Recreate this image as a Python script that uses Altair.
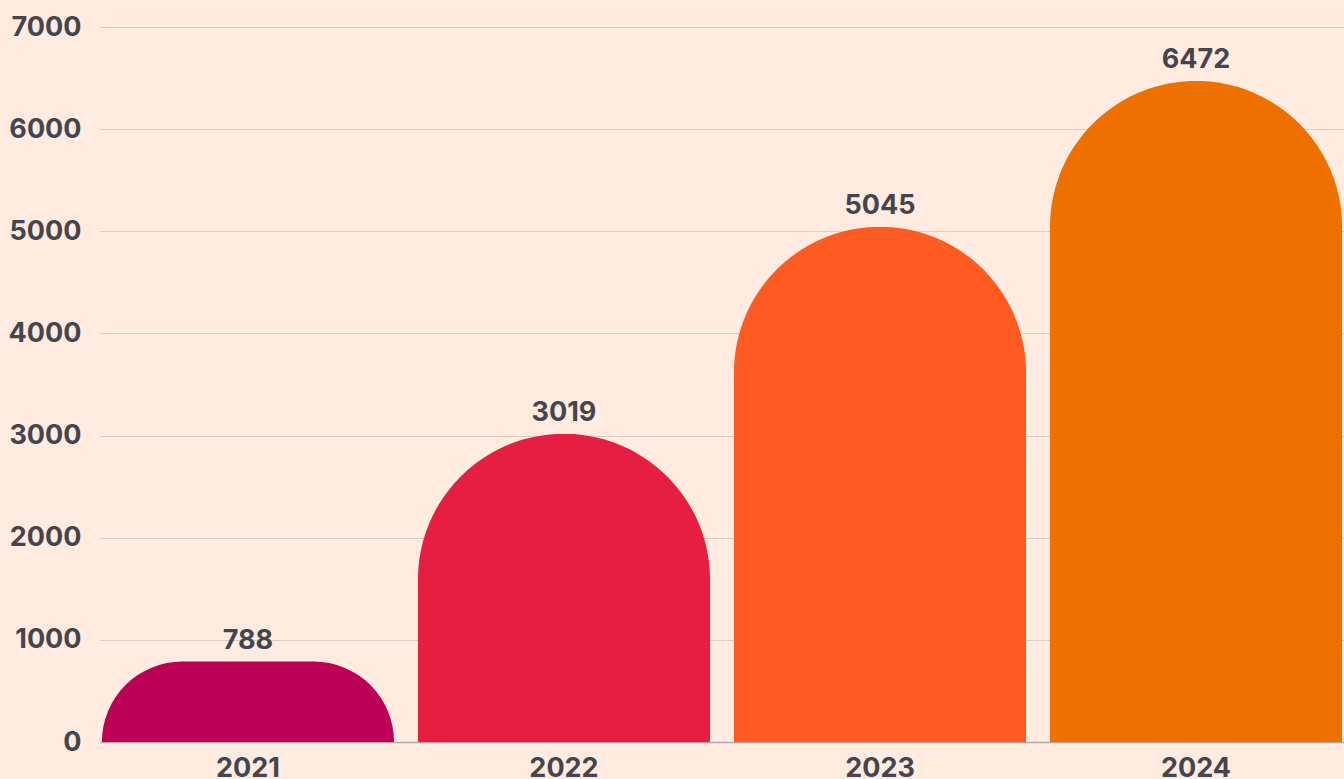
import math
import altair as alt
import pandas as pd

years = ["2021", "2022", "2023", "2024"]
values = [788, 3019, 5045, 6472]
colors = ["#BC0055", "#E61F42", "#FF5A22", "#EE7100"]

df = pd.DataFrame({"year": years, "value": values})

FONT = "Inter"
TXT = "#45454D"
FS = 27
H = 715
YMAX = 7000
W = 1244
P_IN, P_OUT = 0.0757, 0.006
STEP = W / (len(years) - P_IN + 2 * P_OUT)
BW = STEP * (1 - P_IN)
R_FULL = BW / 2

x_scale = alt.Scale(paddingInner=P_IN, paddingOuter=P_OUT)
y_scale = alt.Scale(domain=[0, YMAX], nice=False)
c_scale = alt.Scale(domain=years, range=colors)

x = alt.X("year:N", sort=years, title=None, scale=x_scale,
          axis=alt.Axis(labelAngle=0, labelFontSize=FS, labelFontWeight="bold",
                        labelColor=TXT, labelFont=FONT, ticks=False,
                        domainColor="#B0A8A4", domainWidth=1.5, labelPadding=13))
y = alt.Y("value:Q", title=None, scale=y_scale,
          axis=alt.Axis(values=list(range(0, YMAX + 1, 1000)), format="d", labelFontSize=FS,
                        labelFontWeight="bold", labelColor=TXT, labelFont=FONT,
                        ticks=False, domain=False, gridColor="#DCCBC1",
                        labelPadding=19))
color = alt.Color("year:N", sort=years, scale=c_scale, legend=None)

# tall bars: rounded top with radius half the bar width
tall = [(yr, v) for yr, v in zip(years, values) if v * H / YMAX >= R_FULL]
short = [(yr, v) for yr, v in zip(years, values) if v * H / YMAX < R_FULL]

layers = []
bars = alt.Chart(df).transform_filter(
    alt.FieldOneOfPredicate(field="year", oneOf=[t[0] for t in tall])
).mark_bar(cornerRadiusTopLeft=R_FULL, cornerRadiusTopRight=R_FULL).encode(x=x, y=y, color=color)
layers.append(bars)

# short bars: quarter-circle corners with radius equal to the bar height
for yr, v in short:
    r = v * H / YMAX
    sub = alt.Chart(df).transform_filter(alt.FieldEqualPredicate(field="year", equal=yr))
    rad = alt.Radius("value:Q", scale=alt.Scale(type="linear", domain=[0, YMAX], range=[0, H], zero=True))
    left = sub.mark_arc(theta=1.5 * math.pi, theta2=2 * math.pi, xOffset=r).encode(
        x=alt.X("year:N", sort=years, bandPosition=0), y=alt.datum(0), radius=rad, color=color)
    right = sub.mark_arc(theta=0, theta2=0.5 * math.pi, xOffset=-r).encode(
        x=alt.X("year:N", sort=years, bandPosition=1), y=alt.datum(0), radius=rad, color=color)
    mid = sub.mark_bar(width={"band": (BW - 2 * r + 1) / BW}).encode(
        x=alt.X("year:N", sort=years), y="value:Q", color=color)
    layers += [mid, left, right]

text = alt.Chart(df).mark_text(baseline="bottom", dy=-7, fontSize=FS, fontWeight="bold",
                               font=FONT, color=TXT).encode(
    x=alt.X("year:N", sort=years), y="value:Q", text="value:Q")
layers.append(text)

chart = alt.layer(*layers).properties(
    width=W, height=H,
    background="#FFEBDF",
    padding={"left": 100, "top": 27, "right": 0, "bottom": 37},
    autosize=alt.AutoSizeParams(type="none"),
).configure_view(stroke=None)

chart.save("out.html", embed_options={"renderer": "svg", "actions": False})
